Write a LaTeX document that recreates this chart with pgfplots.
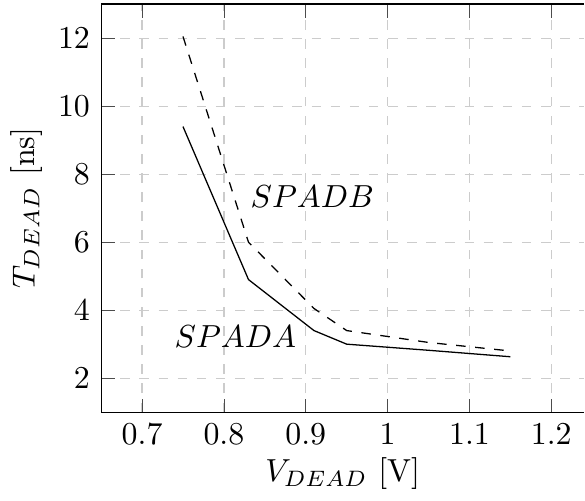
\documentclass[border=0pt]{standalone}
\usepackage{pgfplots}
\pgfplotsset{compat=1.18}
\begin{document}
\begin{tikzpicture}
\begin{axis}[
  scale only axis,
  width=151.5pt, height=128pt,
  xmin=0.65, xmax=1.24,
  ymin=1, ymax=13,
  xtick={0.7,0.8,0.9,1,1.1,1.2},
  ytick={2,4,6,8,10,12},
  xticklabels={0.7,0.8,0.9,1,1.1,1.2},
  axis y line*=left,
  grid=major,
  major grid style={dashed, gray!40},
  tick style={black!70},
  xlabel={$V_{DEAD}$ [V]},
  ylabel={$T_{DEAD}$ [ns]},
  xlabel style={yshift=3pt},
  ylabel style={yshift=-2pt},
  clip=false,
]
\addplot[black, thin] coordinates {
  (0.75,9.4) (0.83,4.9) (0.91,3.4) (0.95,3.0) (1.05,2.82) (1.15,2.63)
};
\addplot[black, thin, dashed] coordinates {
  (0.75,12.05) (0.83,6.0) (0.91,4.05) (0.95,3.4) (1.05,3.05) (1.15,2.8)
};
\draw[black, semithick] (rel axis cs:0,1) -- (rel axis cs:1,1);
\path ([yshift=1.3pt]rel axis cs:0,1) -- ([yshift=1.3pt]rel axis cs:0.1,1);
\node at (axis cs:0.908,7.34) {$SPADB$};
\node at (axis cs:0.814,3.22) {$SPADA$};
\end{axis}
\end{tikzpicture}
\end{document}
